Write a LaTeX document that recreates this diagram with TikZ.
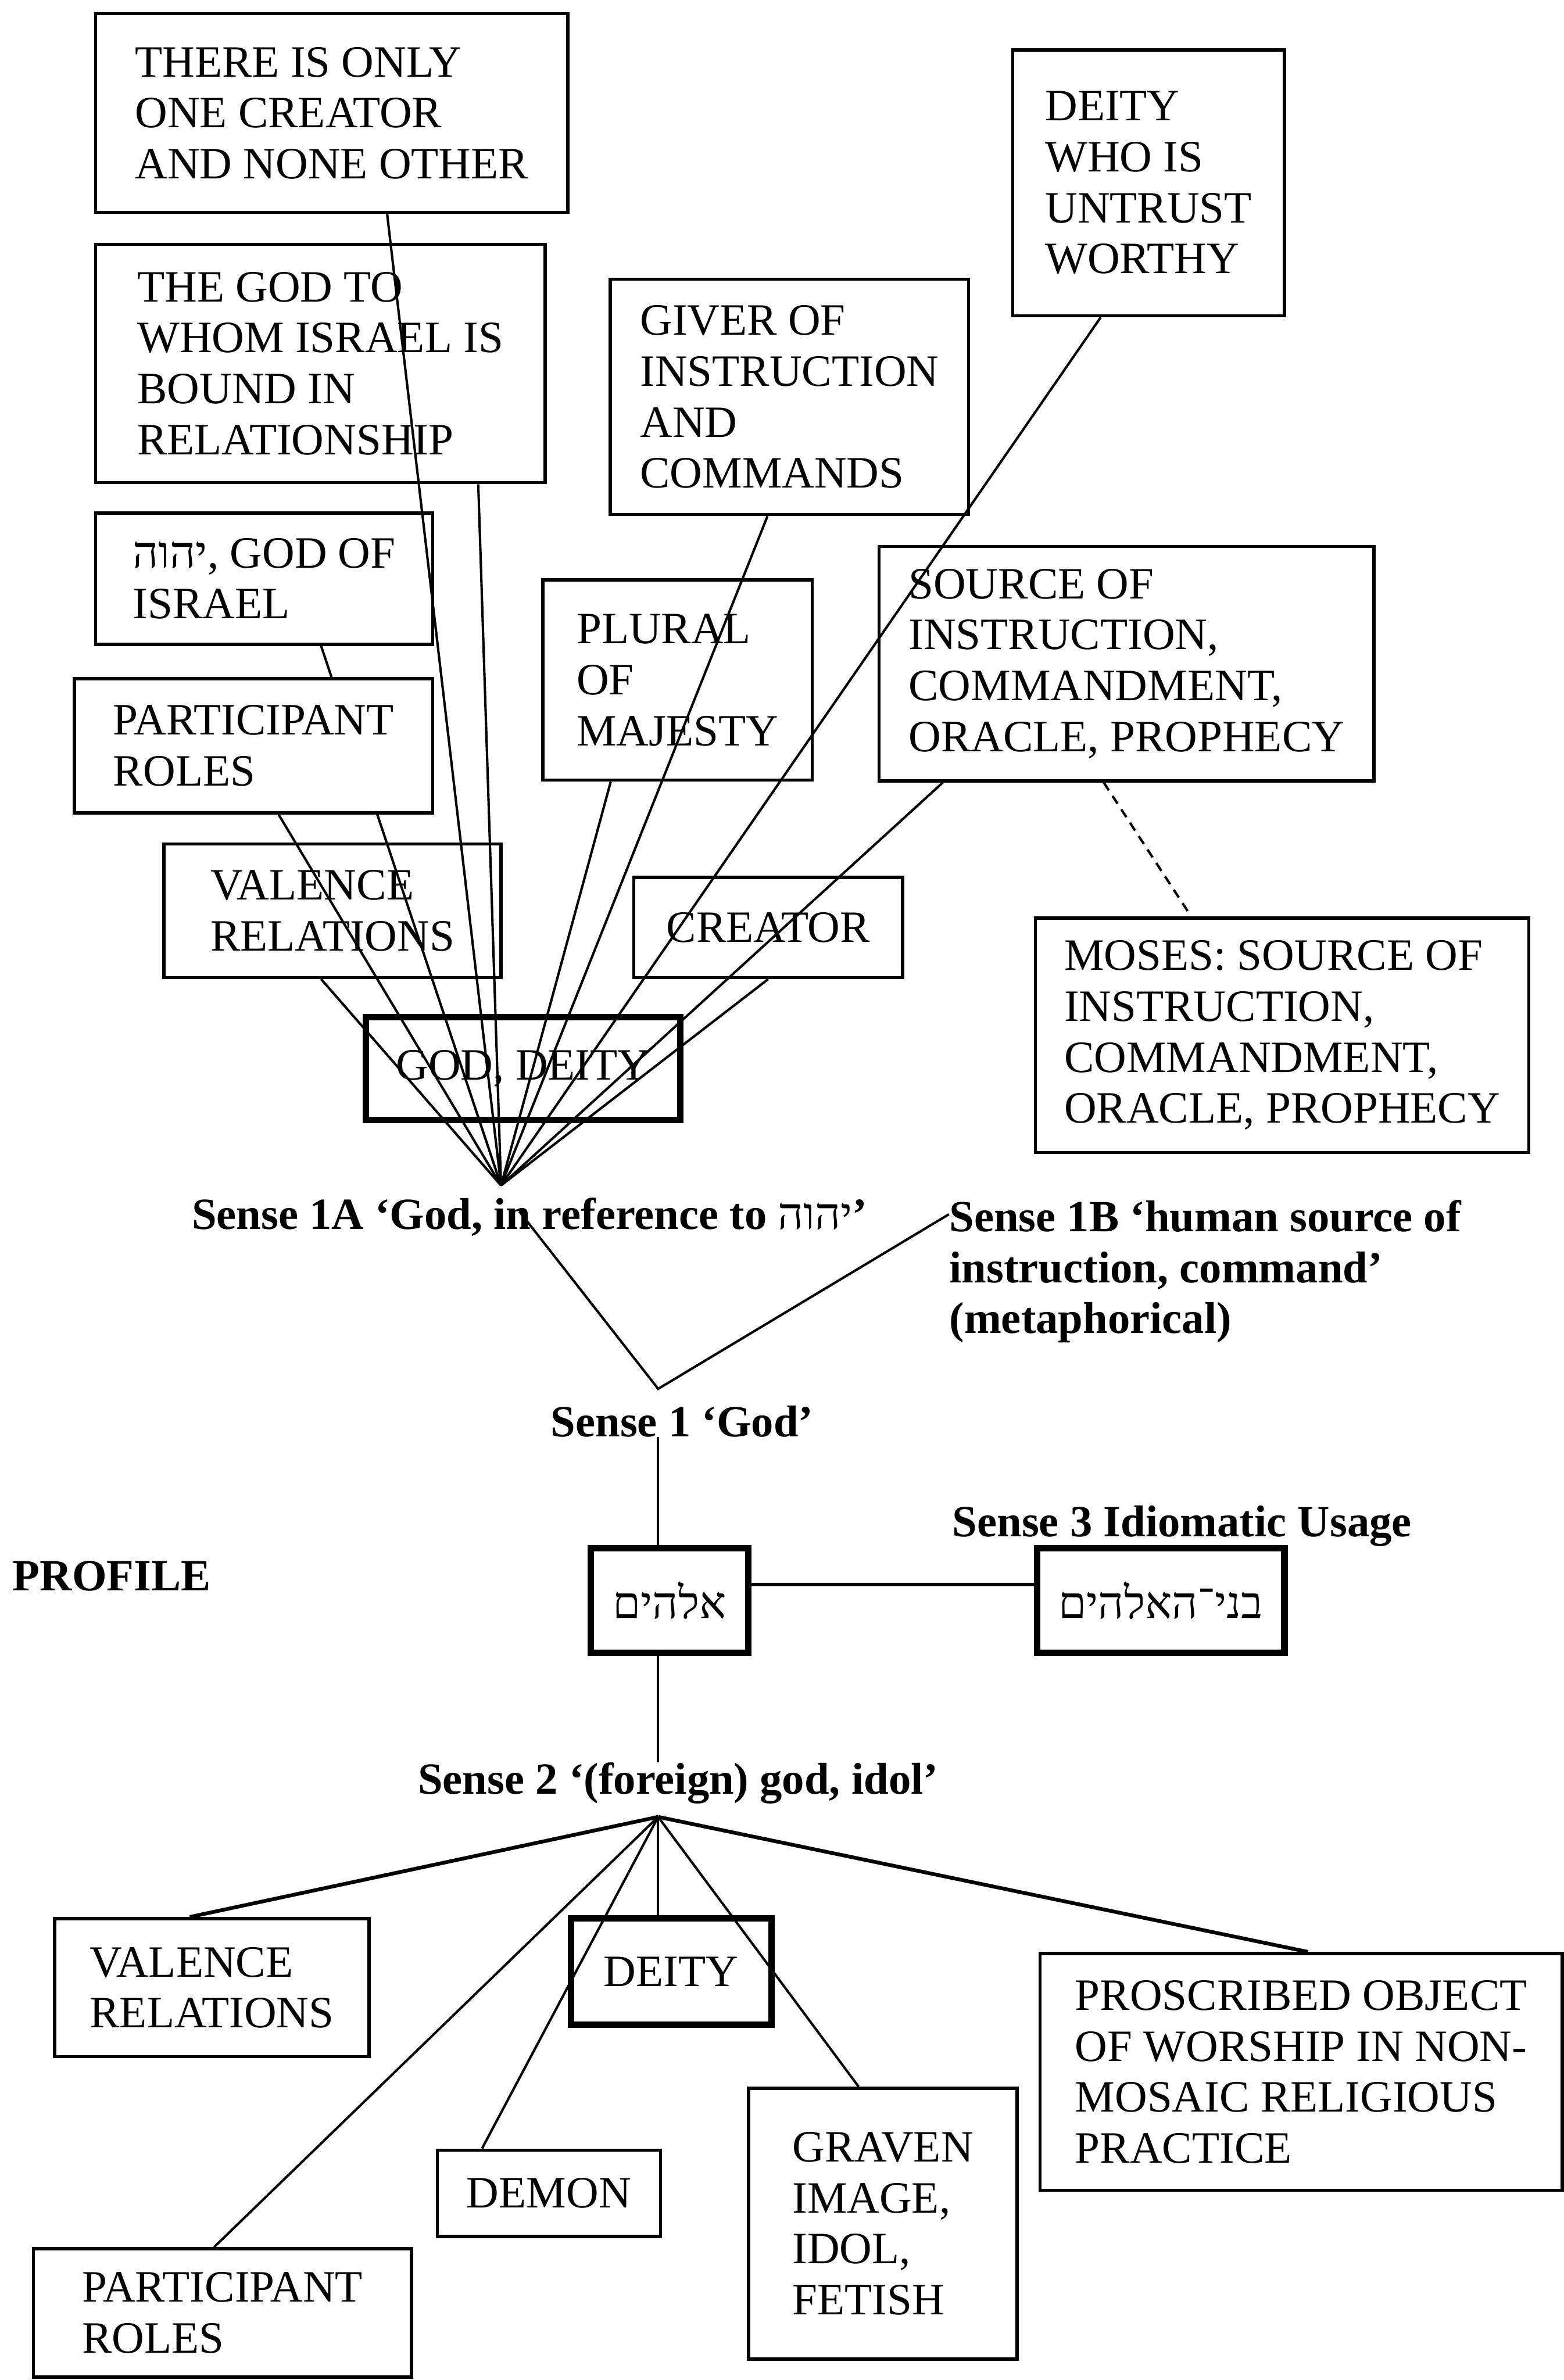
\documentclass[tikz,border=0pt]{standalone}
\usepackage{fontspec}
\usepackage{tikz}
\setmainfont{Liberation Serif}
\newfontfamily\hebfont[Script=Hebrew]{Liberation Serif}
\TeXXeTstate=1

\newcommand{\boxfont}{\fontsize{16.8}{19.1}\selectfont}
\newcommand{\lblfont}{\fontsize{16.7}{19}\selectfont\bfseries}
\newcommand{\heb}[1]{{\hebfont\mdseries\beginR #1\endR}}

\begin{document}
\begin{tikzpicture}[
    dom/.style={draw, line width=1.2pt, fill=white, align=left, inner sep=0pt, font=\boxfont},
    prof/.style={dom, line width=2.4pt},
    lbl/.style={inner sep=0pt, anchor=base west, font=\lblfont},
    link/.style={line width=0.9pt},
    heavy/.style={line width=1.4pt}]
  \path[fill=white] (0,0) rectangle (20.6,-31.36);

  % domains of sense 1A
  \node[dom, minimum width=6.22cm, minimum height=2.62cm] (only) at (4.37,-1.49)
    {THERE IS ONLY\\ONE CREATOR\\AND NONE OTHER};
  \node[dom, minimum width=5.92cm, minimum height=3.14cm] (bound) at (4.22,-4.79)
    {THE GOD TO\\WHOM ISRAEL IS\\BOUND IN\\RELATIONSHIP};
  \node[dom, minimum width=4.44cm, minimum height=1.73cm] (yhwh) at (3.48,-7.625)
    {\heb{יהוה}, GOD OF\\ISRAEL};
  \node[dom, minimum width=4.44cm, minimum height=1.76cm] (valence) at (4.38,-12.0)
    {VALENCE\\RELATIONS};
  \node[prof, minimum width=4.14cm, minimum height=1.36cm] (goddeity) at (6.89,-14.08)
    {GOD, DEITY};
  \node[dom, minimum width=4.72cm, minimum height=3.10cm] (giver) at (10.4,-5.23)
    {GIVER OF\\INSTRUCTION\\AND\\COMMANDS};
  \node[dom, minimum width=3.58cm, minimum height=3.5cm] (untrust) at (15.13,-2.41)
    {DEITY\\WHO IS\\UNTRUST\\WORTHY};
  \node[dom, minimum width=3.55cm, minimum height=2.64cm] (plural) at (8.925,-8.96)
    {PLURAL\\OF\\MAJESTY};
  \node[dom, minimum width=6.52cm, minimum height=3.09cm] (source) at (14.84,-8.745)
    {SOURCE OF\\INSTRUCTION,\\COMMANDMENT,\\ORACLE, PROPHECY};
  \node[dom, minimum width=3.54cm, minimum height=1.32cm] (creator) at (10.12,-12.22)
    {CREATOR};
  \node[dom, minimum width=6.5cm, minimum height=3.09cm] (moses) at (16.89,-13.64)
    {MOSES: SOURCE OF\\INSTRUCTION,\\COMMANDMENT,\\ORACLE, PROPHECY};

  \coordinate (p1) at (6.6,-15.62);
  % this one runs behind the roles box
  \draw[link] ([xshift=0.75cm]yhwh.south) -- (p1);
  \node[dom, minimum width=4.72cm, minimum height=1.77cm] (roles) at (3.34,-9.826)
    {PARTICIPANT\\ROLES};

  \draw[link] ([xshift=0.73cm]only.south) -- (p1);
  \draw[link] ([xshift=2.08cm]bound.south) -- (p1);
  \draw[link] ([xshift=0.33cm]roles.south) -- (p1);
  \draw[link] ([xshift=-0.15cm]valence.south) -- (p1);
  \draw[link] ([xshift=-0.29cm]giver.south) -- (p1);
  \draw[link] ([xshift=-0.63cm]untrust.south) -- (p1);
  \draw[link] ([xshift=-0.88cm]plural.south) -- (p1);
  \draw[link] ([xshift=-2.42cm]source.south) -- (p1);
  \draw[link] (creator.south) -- (p1);
  \draw[link, dash pattern=on 3.5pt off 2.5pt] ([xshift=-0.30cm]source.south) -- ([xshift=-1.2cm]moses.north);

  % senses
  \node[lbl] (s1a) at (2.52,-16.2) {Sense 1A ‘God, in reference to \heb{יהוה}’};
  \node[lbl, anchor=north west, align=left] (s1b) at (12.5,-15.81)
    {Sense 1B ‘human source of\\instruction, command’\\(metaphorical)};
  \coordinate (v1) at (8.67,-18.3);
  \draw[link] ([xshift=4.32cm,yshift=0.24cm]s1a.base west) -- (v1) -- ([yshift=-0.19cm]s1b.north west);

  \node[lbl] (s1) at (7.25,-18.93) {Sense 1 ‘God’};
  \node[lbl] (profile) at (0.16,-20.96) {PROFILE};
  \node[lbl] (s3) at (12.54,-20.25) {Sense 3 Idiomatic Usage};
  \node[prof, minimum width=2.08cm, minimum height=1.38cm] (eloh) at (8.82,-21.09) {\heb{אלהים}};
  \node[prof, minimum width=3.26cm, minimum height=1.38cm] (bnei) at (15.29,-21.09) {\heb{בני־האלהים}};
  \draw[link] ([xshift=-0.15cm]eloh.north) -- ([xshift=-0.15cm]eloh.north |- s1.base);
  \draw[heavy] ([yshift=0.21cm]eloh.east) -- ([yshift=0.21cm]bnei.west);

  \node[lbl] (s2) at (5.5,-23.64) {Sense 2 ‘(foreign) god, idol’};
  \draw[link] ([xshift=-0.15cm]eloh.south) -- ([xshift=-0.15cm]eloh.south |- s2.north);

  % domains of sense 2
  \coordinate (p2) at (8.67,-23.94);
  \node[dom, minimum width=4.14cm, minimum height=1.82cm] (valence2) at (2.79,-26.19)
    {VALENCE\\RELATIONS};
  \node[prof, minimum width=2.64cm, minimum height=1.40cm] (deity2) at (8.84,-25.98)
    {DEITY};
  \node[dom, minimum width=4.98cm, minimum height=1.69cm] (roles2) at (2.93,-30.475)
    {PARTICIPANT\\ROLES};
  \node[dom, minimum width=2.94cm, minimum height=1.14cm] (demon) at (7.23,-28.9)
    {DEMON};
  \node[dom, minimum width=3.54cm, minimum height=3.57cm] (graven) at (11.63,-29.3)
    {GRAVEN\\IMAGE,\\IDOL,\\FETISH};
  \node[dom, minimum width=6.88cm, minimum height=3.12cm] (proscr) at (17.14,-27.3)
    {PROSCRIBED OBJECT\\OF WORSHIP IN NON-\\MOSAIC RELIGIOUS\\PRACTICE};

  \draw[heavy] (p2) -- ([xshift=-0.29cm]valence2.north);
  \draw[link] (p2) -- ([xshift=-0.17cm]deity2.north);
  \draw[link] (p2) -- ([xshift=-0.11cm]roles2.north);
  \draw[link] (p2) -- ([xshift=-0.88cm]demon.north);
  \draw[link] (p2) -- ([xshift=-0.32cm]graven.north);
  \draw[heavy] (p2) -- ([xshift=0.09cm]proscr.north);
\end{tikzpicture}
\end{document}
